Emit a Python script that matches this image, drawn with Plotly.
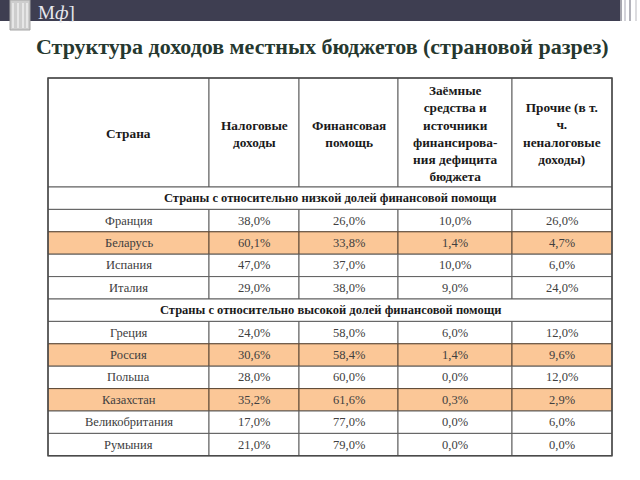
import plotly.graph_objects as go

# Table content
title_text = "Структура доходов местных бюджетов (страновой разрез)"
header_labels = [
    "Страна",
    "Налоговые<br>доходы",
    "Финансовая<br>помощь",
    "Заёмные<br>средства и<br>источники<br>финансирова-<br>ния дефицита<br>бюджета",
    "Прочие (в т.<br>ч.<br>неналоговые<br>доходы)",
]
group_low = "Страны с относительно низкой долей финансовой помощи"
group_high = "Страны с относительно высокой долей финансовой помощи"

countries_low = ["Франция", "Беларусь", "Испания", "Италия"]
tax_low = ["38,0%", "60,1%", "47,0%", "29,0%"]
aid_low = ["26,0%", "33,8%", "37,0%", "38,0%"]
debt_low = ["10,0%", "1,4%", "10,0%", "9,0%"]
other_low = ["26,0%", "4,7%", "6,0%", "24,0%"]

countries_high = ["Греция", "Россия", "Польша", "Казахстан", "Великобритания", "Румыния"]
tax_high = ["24,0%", "30,6%", "28,0%", "35,2%", "17,0%", "21,0%"]
aid_high = ["58,0%", "58,4%", "60,0%", "61,6%", "77,0%", "79,0%"]
debt_high = ["6,0%", "1,4%", "0,0%", "0,3%", "0,0%", "0,0%"]
other_high = ["12,0%", "9,6%", "12,0%", "2,9%", "6,0%", "0,0%"]

highlighted = ["Беларусь", "Россия", "Казахстан"]

# Layout
col_edges = [48, 209, 299, 398, 512, 612]
table_top = 78
header_bottom = 187
row_h = 22.4
serif = "Liberation Serif"
line_col = "#5e5e5e"
hl_fill = "#fbc797"
hl_line = "#5a4634"

rows = [("group", group_low)]
for i in range(len(countries_low)):
    rows.append(("data", [countries_low[i], tax_low[i], aid_low[i], debt_low[i], other_low[i]]))
rows.append(("group", group_high))
for i in range(len(countries_high)):
    rows.append(("data", [countries_high[i], tax_high[i], aid_high[i], debt_high[i], other_high[i]]))

shapes = []
annotations = []

# Top bar of the slide
shapes.append(dict(type="rect", x0=0, x1=620, y0=0, y1=21, fillcolor="#3e3e51", line_width=0, layer="below"))
shapes.append(dict(type="rect", x0=10, x1=30, y0=0, y1=30, fillcolor="#cdcdcd", line=dict(color="#a5a5a5", width=1)))
for xs in [13, 18, 23, 27]:
    shapes.append(dict(type="line", x0=xs, x1=xs, y0=3, y1=28, line=dict(color="#e6e6e6", width=2)))
for xs, c in [(621, "#8a8a95"), (625, "#c5c5cc"), (630, "#9a9aa5"), (636, "#d0d0d5")]:
    shapes.append(dict(type="line", x0=xs, x1=xs, y0=0, y1=21, line=dict(color=c, width=1.5)))
annotations.append(dict(x=36, y=12, text="М<i>ф</i>]", showarrow=False, xanchor="left", yanchor="middle",
                        font=dict(family=serif, size=19, color="#e8e8ee")))

# Title
annotations.append(dict(x=322, y=46, text="<b>" + title_text + "</b>", showarrow=False,
                        xanchor="center", yanchor="middle",
                        font=dict(family=serif, size=22, color="#26382f")))

# Header cells
for c in range(5):
    shapes.append(dict(type="rect", x0=col_edges[c], x1=col_edges[c + 1], y0=table_top, y1=header_bottom,
                       fillcolor="white", line=dict(color=line_col, width=1)))
    annotations.append(dict(x=(col_edges[c] + col_edges[c + 1]) / 2, y=(table_top + header_bottom) / 2 + 1,
                            text="<b>" + header_labels[c] + "</b>", showarrow=False,
                            xanchor="center", yanchor="middle",
                            font=dict(family=serif, size=13.3, color="#1a1a1a")))

# Body rows
for r, (kind, content) in enumerate(rows):
    y0 = header_bottom + r * row_h
    y1 = y0 + row_h
    yc = (y0 + y1) / 2
    if kind == "group":
        shapes.append(dict(type="rect", x0=col_edges[0], x1=col_edges[-1], y0=y0, y1=y1,
                           fillcolor="white", line=dict(color=line_col, width=1)))
        annotations.append(dict(x=(col_edges[0] + col_edges[-1]) / 2, y=yc, text="<b>" + content + "</b>",
                                showarrow=False, xanchor="center", yanchor="middle",
                                font=dict(family=serif, size=12.5, color="#1a1a1a")))
    else:
        hl = content[0] in highlighted
        for c in range(5):
            shapes.append(dict(type="rect", x0=col_edges[c], x1=col_edges[c + 1], y0=y0, y1=y1,
                               fillcolor=hl_fill if hl else "white",
                               line=dict(color=hl_line if hl else line_col, width=1)))
            annotations.append(dict(x=(col_edges[c] + col_edges[c + 1]) / 2, y=yc, text=content[c],
                                    showarrow=False, xanchor="center", yanchor="middle",
                                    font=dict(family=serif, size=12.5, color="#404040")))

# Outer border of table
table_bottom = header_bottom + len(rows) * row_h
shapes.append(dict(type="rect", x0=col_edges[0], x1=col_edges[-1], y0=table_top, y1=table_bottom,
                   line=dict(color="#4a4a4a", width=1.5)))

fig = go.Figure(go.Scatter(x=[0, 640], y=[0, 480], mode="markers", marker=dict(opacity=0), hoverinfo="skip"))
fig.update_layout(
    width=640, height=480,
    margin=dict(l=0, r=0, t=0, b=0),
    paper_bgcolor="white", plot_bgcolor="white",
    showlegend=False,
    xaxis=dict(range=[0, 640], visible=False, fixedrange=True),
    yaxis=dict(range=[480, 0], visible=False, fixedrange=True),
    shapes=shapes,
    annotations=annotations,
)
fig.write_html("out.html", config=dict(displayModeBar=False),
               post_script="document.body.style.margin='0';")
